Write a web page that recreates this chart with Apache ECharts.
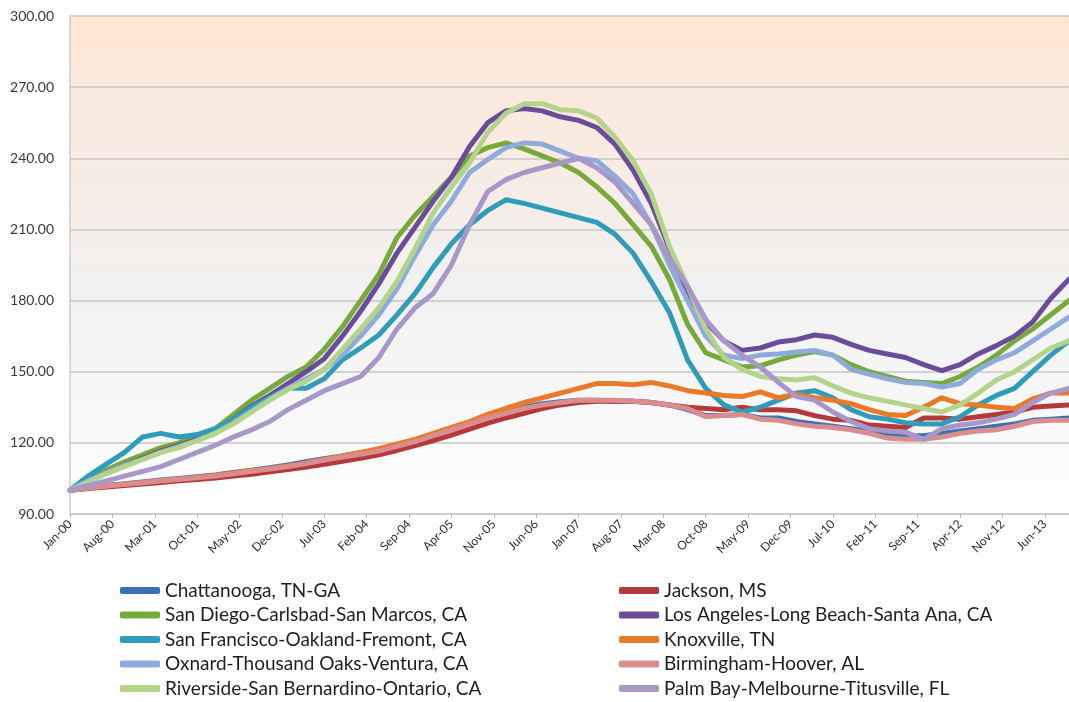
<!DOCTYPE html>
<html>
<head>
<meta charset="utf-8">
<title>House price index 2000-2013</title>
<script src="https://cdn.jsdelivr.net/npm/echarts@6/dist/echarts.min.js"></script>
<style>
	html, body { margin: 0; padding: 0; background: #ffffff; }
	#chart { width: 1069px; height: 702px; }
</style>
</head>
<body>
<div id="chart"></div>
<script>
//Month index (0 = Jan-00), one sample every quarter
let months = [0, 3, 6, 9, 12, 15, 18, 21, 24, 27, 30, 33, 36, 39, 42, 45, 48, 51, 54, 57,
	60, 63, 66, 69, 72, 75, 78, 81, 84, 87, 90, 93, 96, 99, 102, 105, 108, 111, 114, 117,
	120, 123, 126, 129, 132, 135, 138, 141, 144, 147, 150, 153, 156, 159, 162, 165];

//Tick labels, one every 7 months
let tickLabels = ['Jan-00', 'Aug-00', 'Mar-01', 'Oct-01', 'May-02', 'Dec-02', 'Jul-03', 'Feb-04',
	'Sep-04', 'Apr-05', 'Nov-05', 'Jun-06', 'Jan-07', 'Aug-07', 'Mar-08', 'Oct-08', 'May-09',
	'Dec-09', 'Jul-10', 'Feb-11', 'Sep-11', 'Apr-12', 'Nov-12', 'Jun-13'];
let tickMonths = [0, 7, 14, 21, 28, 35, 42, 49, 56, 63, 70, 77, 84, 91, 98, 105, 112, 119,
	126, 133, 140, 147, 154, 161];

//Series values
let chattanooga = [100, 101, 102, 102.8, 103.5, 104.3, 105, 105.7, 106.5, 107.5, 108.5, 109.5, 110.7, 112, 113.3, 114.5, 115.8, 117, 119, 121,
	123.3, 125.8, 128.3, 130.8, 133, 135, 136.5, 137.3, 138, 138, 137.5, 137.5, 137, 136, 134, 131.5, 131.5, 132, 130.5, 130.5,
	129, 128, 127, 126, 125, 123.5, 123, 123, 124, 125, 126, 127, 128, 129.5, 130, 130.5];
let jackson = [100, 100.8, 101.4, 102, 102.6, 103.3, 104, 104.5, 105.2, 106, 106.8, 107.8, 108.8, 109.8, 111, 112.2, 113.5, 115, 116.8, 118.8,
	121, 123.3, 125.8, 128.3, 130.5, 132.5, 134.5, 136, 137, 137.5, 137.5, 137.5, 137, 136, 135, 134.5, 134, 135, 134, 134,
	133.5, 131.5, 130, 129.5, 127.5, 127, 126.5, 130.5, 130.5, 130, 131, 132, 133, 135, 135.5, 136];
let sanDiego = [100, 104.5, 108.5, 112, 115, 118, 120, 123, 126, 132, 138, 143, 148, 152, 159.5, 169, 180, 191, 206.5, 216,
	224, 232, 241, 244.5, 246.5, 244, 241, 238, 234, 228, 221, 212, 203, 189, 170, 158, 155, 152, 152.5, 155,
	157, 158.5, 157, 153, 150, 148, 146, 145.5, 145, 148, 152, 157, 163, 168, 174, 180];
let losAngeles = [100, 104, 107.5, 110.5, 113.5, 116.5, 119, 121.5, 124.5, 130, 135.5, 140, 145, 150, 155.5, 165, 175.5, 187, 200, 211,
	222, 232, 245, 255, 260, 261, 260, 257.5, 256, 253, 246, 235, 221, 202, 183, 171, 163, 159, 160, 162.5,
	163.5, 165.5, 164.5, 161.5, 159, 157.5, 156, 153, 150.5, 153, 157.5, 161, 165, 171, 181, 189];
let sanFrancisco = [100, 106, 111, 116, 122.5, 124, 122.5, 123.5, 126, 130, 135, 139, 143, 143, 147, 155, 160, 165.5, 174, 183,
	194, 204, 212, 218, 222.5, 221, 219, 217, 215, 213, 208, 200, 188, 175, 155, 143, 136, 133, 135, 138,
	141, 142, 139, 134, 131, 130, 128.5, 128, 128, 131, 136, 140, 143, 150, 157, 163];
let knoxville = [100, 101, 101.8, 102.5, 103.3, 104, 104.8, 105.5, 106.3, 107.3, 108.3, 109.2, 110.3, 111.5, 113, 114.5, 116, 117.5, 119.5, 121.5,
	124, 126.5, 129, 132, 134.5, 137, 139, 141, 143, 145, 145, 144.5, 145.5, 144, 142, 141, 140, 139.5, 141.5, 139,
	140.5, 139, 138, 136.5, 134, 132, 131.5, 135, 139, 136.5, 136, 135, 134.5, 138.5, 141, 141];
let oxnard = [100, 104, 107.5, 110.5, 113, 116, 118.5, 121, 124, 128.5, 133.5, 138.5, 143, 147, 151, 157, 165, 174, 185, 199,
	212, 222, 234, 239.5, 244.5, 246.5, 246, 243, 240, 239, 232.5, 225, 212, 195, 180, 165, 157, 155.5, 157, 157.5,
	158.3, 159, 157, 151, 149, 147, 145.5, 145, 143.5, 145, 151, 155, 158, 163, 168, 173];
let birmingham = [100, 101, 101.8, 102.5, 103.2, 104, 104.7, 105.3, 106, 107, 108, 109, 110, 111.3, 112.8, 114, 115.2, 116.5, 118.5, 120.5,
	123, 125.5, 128, 130.5, 132.5, 134.5, 136, 137, 138, 138, 138, 137.5, 137, 136, 134.5, 131, 131.5, 132, 130, 129.5,
	128, 127, 126.5, 125.5, 124, 122, 121.5, 121.5, 122.5, 124, 125, 125.5, 127, 129, 129.5, 129.5];
let riverside = [100, 103.5, 107, 110, 113, 116, 118, 121, 124, 128, 133, 138, 142.5, 146, 151, 159.5, 168, 177, 188, 202,
	217, 228, 238, 251, 259, 263, 263, 260.5, 260, 257, 249, 239, 225, 203, 186, 168, 156, 151, 148, 147,
	146.5, 147.5, 144, 141, 139, 137.5, 136, 134.5, 133, 136, 141, 146.5, 150, 155, 160, 163];
let palmBay = [100, 102, 104, 106, 108, 110, 113, 116, 119, 122.5, 125.5, 129, 134, 138, 142, 145, 148, 156, 168, 177,
	183, 195, 212, 226, 231, 234, 236, 238, 240, 236, 230, 221, 212, 198, 186, 172, 163, 157, 152, 145.5,
	139.5, 138, 133, 129, 126, 125, 124.5, 121.5, 126, 127.5, 128.5, 130, 132, 137, 141, 143];

//Name, values, colour (drawing order = legend order, row by row)
let seriesList = [
	['Chattanooga, TN-GA', chattanooga, '#3b6fb6'],
	['Jackson, MS', jackson, '#b5393a'],
	['San Diego-Carlsbad-San Marcos, CA', sanDiego, '#77a93b'],
	['Los Angeles-Long Beach-Santa Ana, CA', losAngeles, '#6b4c9a'],
	['San Francisco-Oakland-Fremont, CA', sanFrancisco, '#2f9cba'],
	['Knoxville, TN', knoxville, '#ea7a28'],
	['Oxnard-Thousand Oaks-Ventura, CA', oxnard, '#8eabdc'],
	['Birmingham-Hoover, AL', birmingham, '#d98d8f'],
	['Riverside-San Bernardino-Ontario, CA', riverside, '#b4d48c'],
	['Palm Bay-Melbourne-Titusville, FL', palmBay, '#a898c9']
];

let font = 'Lato, "Open Sans", sans-serif';

let series = [];
for (let i = 0; i < seriesList.length; i++) {
	let s = seriesList[i];
	let data = [];
	for (let j = 0; j < months.length; j++) {
		data.push([months[j], s[1][j]]);
	}
	series.push({
		name: s[0],
		type: 'line',
		data: data,
		showSymbol: false,
		color: s[2],
		lineStyle: { width: 5, color: s[2], cap: 'round', join: 'round' },
		emphasis: { disabled: true },
		animation: false
	});
}

//Two legend columns
let leftNames = [], rightNames = [];
for (let i = 0; i < seriesList.length; i++) {
	if (i % 2 === 0) leftNames.push(seriesList[i][0]);
	else rightNames.push(seriesList[i][0]);
}
function makeLegend(names, left) {
	return {
		data: names,
		orient: 'vertical',
		left: left,
		top: 581,
		padding: 0,
		icon: 'roundRect',
		itemWidth: 40,
		itemHeight: 7,
		itemGap: 5.5,
		selectedMode: false,
		textStyle: { fontFamily: font, fontSize: 19, color: '#1e1e1e', lineHeight: 18 }
	};
}

let chart = echarts.init(document.getElementById('chart'));
chart.setOption({
	animation: false,
	backgroundColor: '#ffffff',
	grid: {
		left: 70,
		right: 0,
		top: 16,
		bottom: 188,
		show: true,
		borderWidth: 0,
		backgroundColor: {
			type: 'linear', x: 0, y: 0, x2: 0, y2: 1,
			colorStops: [
				{ offset: 0, color: '#fde6d4' },
				{ offset: 0.3, color: '#f8ece4' },
				{ offset: 0.55, color: '#f1f1f1' },
				{ offset: 0.8, color: '#f8f8f8' },
				{ offset: 1, color: '#ffffff' }
			]
		}
	},
	legend: [makeLegend(leftNames, 120), makeLegend(rightNames, 619)],
	xAxis: {
		type: 'value',
		min: 0,
		max: 165,
		axisLine: { show: true, lineStyle: { color: '#c8c8c8', width: 1.5 } },
		axisTick: { show: true, length: 4, lineStyle: { color: '#b8b8b8' }, customValues: tickMonths },
		splitLine: { show: false },
		axisLabel: {
			customValues: tickMonths,
			rotate: 45,
			margin: 8,
			fontFamily: font,
			fontSize: 12,
			color: '#2e2e2e',
			formatter: function (v) {
				let k = tickMonths.indexOf(v);
				return k >= 0 ? tickLabels[k] : '';
			}
		}
	},
	yAxis: {
		type: 'value',
		min: 90,
		max: 300,
		interval: 30,
		axisLine: { show: true, lineStyle: { color: '#d0cbc8', width: 1.5 } },
		axisTick: { show: false },
		splitLine: { show: true, lineStyle: { color: '#c9c6c4', width: 1.5 } },
		axisLabel: {
			margin: 16,
			fontFamily: font,
			fontSize: 14,
			color: '#3a3a3a',
			formatter: function (v) { return v.toFixed(2); }
		}
	},
	series: series
});
</script>
</body>
</html>
